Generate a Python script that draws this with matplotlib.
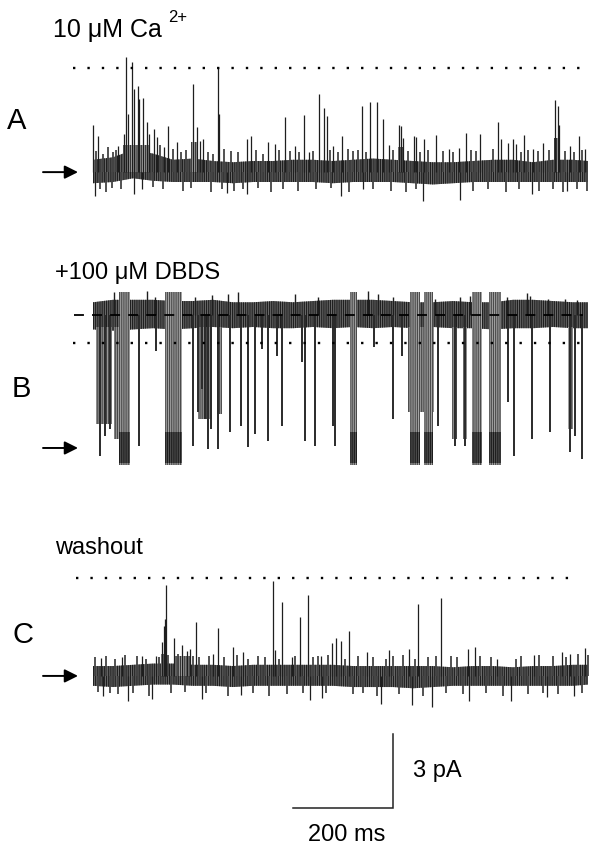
import numpy as np
import matplotlib.pyplot as plt

plt.rcParams['font.family'] = ['Liberation Sans', 'DejaVu Sans']
plt.rcParams['hatch.linewidth'] = 0.6

# ---- data (time in ms, current in pA) ----
env_t = [0, 40, 80, 120, 160, 200, 240, 280, 320, 360, 400, 440, 480,
         520, 560, 600, 640, 680, 720, 760, 800, 840, 880, 920, 960, 990]

# A: 10 uM Ca2+
a_hi = [0.5, 0.6, 0.9, 0.75, 0.5, 0.55, 0.45, 0.4, 0.45, 0.45, 0.5, 0.5, 0.45,
        0.5, 0.55, 0.5, 0.45, 0.4, 0.4, 0.45, 0.5, 0.5, 0.4, 0.5, 0.5, 0.45]
a_lo = [-0.45, -0.4, -0.25, -0.35, -0.4, -0.4, -0.4, -0.45, -0.4, -0.4, -0.4, -0.4, -0.45,
        -0.4, -0.4, -0.4, -0.45, -0.5, -0.45, -0.4, -0.4, -0.4, -0.4, -0.4, -0.4, -0.4]
a_spike_t = [0, 10, 50, 62, 66, 70, 78, 82, 90, 92, 100, 108, 112, 122, 128, 142, 150, 168,
             200, 208, 214, 220, 250, 252, 308, 316, 350, 364, 384, 404, 422, 432, 452, 462,
             468, 480, 498, 538, 554, 568, 580, 592, 612, 616, 620, 642, 646, 662, 686, 712,
             732, 746, 774, 810, 816, 830, 840, 846, 862, 880, 900, 924, 930, 932, 954, 972, 984]
a_spike_a = [1.90, 1.46, 1.05, 1.54, 4.66, 2.35, 4.45, 3.36, 3.48, 2.96, 3.00, 2.02, 1.54, 1.74,
             1.42, 1.01, 1.86, 1.21, 3.56, 1.82, 1.26, 1.34, 4.25, 2.35, 1.34, 1.46, 1.21, 1.13,
             2.23, 1.05, 2.31, 0.81, 3.16, 2.59, 2.27, 1.05, 1.46, 2.67, 2.83, 2.83, 2.15, 1.09,
             1.90, 1.86, 1.38, 1.46, 1.42, 1.34, 1.50, 0.93, 0.97, 1.58, 1.54, 2.02, 1.34, 1.17,
             1.34, 1.13, 1.50, 0.93, 1.17, 2.91, 2.67, 1.90, 1.05, 1.46, 0.93]
a_dip_t = [4, 82, 98, 268, 308, 496, 540, 660, 734, 878, 948]
a_dip_a = [-0.97, -0.89, -0.69, -0.85, -0.89, -0.97, -0.69, -1.17, -1.13, -0.89, -0.77]
a_fuzz_t = [6, 14, 20, 26, 30, 38, 40, 46, 56, 120, 134, 140, 160, 176, 180, 186, 196, 230,
            236, 240, 258, 262, 276, 282, 290, 300, 326, 330, 340, 356, 372, 380, 394, 410,
            412, 440, 446, 474, 476, 490, 510, 512, 520, 530, 546, 560, 596, 600, 626, 630,
            646, 654, 670, 700, 720, 756, 760, 766, 790, 800, 826, 852, 856, 870, 890, 892,
            912, 920, 940, 944, 962, 968, 978, 988]
a_fuzz_a = [0.85, -0.7, 0.75, -0.8, 1.0, -0.65, 0.8, 0.9, -0.7, -0.6, 1.1, -0.7, 0.95, 0.8,
            -0.75, 0.9, -0.65, 0.8, -0.8, 0.75, -0.7, 0.95, 0.85, -0.75, 0.8, -0.7, 0.9, -0.65,
            0.75, -0.8, 0.9, -0.7, 0.85, -0.75, 0.8, 0.85, -0.7, 0.9, -0.65, 0.8, 0.95, -0.8,
            0.85, 0.9, 0.8, -0.7, -0.75, 0.9, -0.8, 0.85, -0.7, 0.8, 0.9, 0.85, 0.8, 0.9, -0.75,
            0.85, -0.7, 0.95, -0.8, -0.7, 0.8, 0.9, 0.85, -0.75, 0.9, -0.7, -0.8, 0.85, 0.8,
            -0.7, 0.9, -0.75]
a_burst_start = [60, 196, 610, 922]
a_burst_end = [112, 208, 622, 934]
a_burst_a = [1.1, 1.2, 1.0, 1.4]

# B: +100 uM DBDS (current measured from the closed level)
b_open_hi = [5.9, 6.0, 6.0, 6.0, 5.95, 5.95, 6.0, 5.9, 5.9, 5.95, 5.9, 5.95, 6.0,
             6.0, 6.0, 5.95, 5.9, 5.9, 5.95, 5.9, 5.9, 6.0, 6.0, 5.95, 5.9, 5.9]
b_open_lo = [4.8, 4.75, 4.8, 4.85, 4.8, 4.85, 4.9, 4.85, 4.9, 4.85, 4.85, 4.9, 4.85,
             4.9, 4.85, 4.9, 4.85, 4.9, 4.85, 4.85, 4.8, 4.85, 4.85, 4.9, 4.85, 4.85]
b_shut_start = [52, 144, 514, 634, 662, 758, 792]
b_shut_end = [74, 178, 528, 654, 680, 778, 816]
b_flick_start = [6, 42, 210, 248, 630, 718, 740, 950]
b_flick_end = [38, 52, 238, 258, 682, 728, 748, 960]
b_flick_a = [0.97, 0.36, 1.17, 1.38, 1.46, 0.36, 0.36, 0.77]
b_dip_t = [14, 24, 34, 92, 126, 200, 210, 218, 224, 230, 236, 250, 274, 296, 310, 324, 338,
           350, 368, 378, 418, 424, 444, 480, 484, 562, 600, 618, 690, 724, 744, 830, 842,
           878, 914, 954, 964, 978]
b_dip_a = [-0.32, 0.49, 0.77, 0.08, 3.93, 0.08, 1.46, 2.39, 1.17, -0.04, 0.77, -0.04, 0.65,
           0.89, 0.04, 0.57, 4.0, 0.28, 3.72, 0.89, 3.48, 0.28, 0.08, 0.89, 0.08, 4.09, 1.17,
           3.72, 0.89, 0.08, 0.08, 1.86, -0.32, 0.36, 0.65, -0.16, 0.49, -0.45]
b_peak_t = [42, 108, 124, 204, 238, 270, 290, 404, 450, 550, 570, 600, 684, 734, 754, 828,
            868, 874, 910, 944, 968]
b_peak_a = [6.32, 6.36, 6.11, 6.1, 6.2, 6.23, 6.32, 6.23, 6.11, 6.36, 6.23, 6.1, 6.05, 6.1,
            6.15, 6.1, 6.28, 6.15, 6.05, 6.05, 6.0]
b_open_level = 5.38
b_ref_level = 4.25

# C: washout
c_hi = [0.4, 0.4, 0.45, 0.5, 0.5, 0.45, 0.45, 0.4, 0.45, 0.45, 0.45, 0.45, 0.45,
        0.4, 0.4, 0.4, 0.4, 0.4, 0.35, 0.4, 0.4, 0.35, 0.4, 0.4, 0.45, 0.45]
c_lo = [-0.4, -0.45, -0.4, -0.35, -0.35, -0.4, -0.4, -0.45, -0.4, -0.4, -0.4, -0.4, -0.4,
        -0.45, -0.45, -0.45, -0.5, -0.45, -0.4, -0.4, -0.4, -0.4, -0.4, -0.4, -0.4, -0.35]
c_spike_t = [16, 58, 98, 126, 138, 142, 144, 146, 162, 178, 188, 194, 206, 240, 250, 280,
             300, 360, 364, 378, 398, 414, 430, 456, 478, 486, 496, 512, 548, 592, 632, 650,
             696, 750, 764, 808, 882, 938, 954, 984]
c_spike_a = [0.73, 0.77, 0.81, 0.81, 1.38, 2.02, 2.31, 3.68, 1.54, 1.26, 1.01, 1.09, 2.19,
             0.89, 1.94, 1.17, 0.97, 3.85, 1.05, 3.00, 0.77, 2.39, 3.28, 0.81, 1.34, 1.54,
             1.42, 1.82, 0.97, 1.05, 1.09, 2.91, 3.16, 1.09, 1.17, 0.69, 0.85, 0.97, 0.89, 1.13]
c_dip_t = [20, 70, 118, 218, 296, 434, 458, 576, 638, 678, 752, 836, 908, 962]
c_dip_a = [-0.81, -1.01, -0.93, -0.93, -0.77, -0.97, -0.89, -1.13, -1.17, -1.26, -1.01,
           -1.01, -0.85, -0.81]
c_fuzz_t = [4, 10, 26, 34, 44, 50, 64, 80, 88, 106, 112, 132, 150, 156, 170, 184, 200, 212,
            226, 232, 262, 270, 288, 310, 320, 330, 344, 352, 372, 388, 404, 420, 440, 450,
            466, 470, 504, 520, 530, 540, 560, 568, 586, 600, 612, 620, 644, 660, 670, 686,
            706, 716, 728, 740, 774, 786, 796, 820, 846, 856, 870, 892, 900, 920, 930, 946,
            970, 978, 990]
c_fuzz_a = [0.75, -0.65, 0.8, -0.7, 0.7, -0.75, 0.85, -0.7, 0.8, 0.7, -0.8, 0.75, 0.85,
            -0.7, 0.9, -0.65, 0.8, 0.75, -0.7, 0.8, 0.75, -0.8, 0.85, 0.7, -0.7, 0.8, 0.75,
            -0.8, 0.7, -0.75, 0.8, -0.7, 0.75, 0.8, -0.7, 0.85, 0.7, -0.75, 0.8, -0.7, 0.75,
            -0.8, 0.7, 0.8, -0.75, 0.85, 0.7, -0.8, 0.75, 0.8, -0.7, 0.8, 0.75, -0.75, 0.8,
            -0.7, 0.75, -0.8, 0.7, 0.8, -0.75, 0.85, -0.7, 0.8, -0.75, 0.75, 0.9, -0.7, 0.85]
c_burst_start = [136, 164]
c_burst_end = [148, 196]
c_burst_a = [0.9, 0.8]

# dotted reference levels (pA above baseline)
a_ref_level = 4.2
c_ref_level = 3.95

# vertical offsets of the three records on the page
A_OFF = 20.40
B_OFF = 9.23
C_OFF = 0.0

TRACE = '#1e1e1e'
HATCH = '|' * 9


def dotted(ax, y, x0=-40, x1=976):
    ax.plot([x0, x1], [y, y], color='black', lw=1.7,
            linestyle=(0, (1.0, 5.1)), dash_capstyle='butt', zorder=6)


def baseline_trace(ax, off, hi, lo, sp_t, sp_a, dp_t, dp_a, fz_t, fz_a, bs, be, ba):
    hi = np.array(hi) + off
    lo = np.array(lo) + off
    ax.fill_between(env_t, lo, hi, facecolor='#6a6a6a', edgecolor='#111111',
                    hatch=HATCH, lw=0, zorder=2)
    for s, e, a in zip(bs, be, ba):
        ax.fill_between([s, e], off, off + a, facecolor='#a8a8a8',
                        edgecolor=TRACE, hatch=HATCH, lw=0, zorder=2)
    ax.vlines(fz_t, off, off + np.array(fz_a), color='#444444', lw=1.3, zorder=3)
    ax.vlines(sp_t, off, off + np.array(sp_a), color=TRACE, lw=0.9, zorder=4)
    ax.vlines(dp_t, off, off + np.array(dp_a), color=TRACE, lw=0.9, zorder=4)


fig = plt.figure(figsize=(5.89, 8.54), dpi=100)
ax = fig.add_axes([0, 0, 1, 1])
ax.set_xlim(-186, 992)
ax.set_ylim(-7.17, 27.41)
ax.axis('off')

# --- A ---
baseline_trace(ax, A_OFF, a_hi, a_lo, a_spike_t, a_spike_a, a_dip_t, a_dip_a,
               a_fuzz_t, a_fuzz_a, a_burst_start, a_burst_end, a_burst_a)
dotted(ax, A_OFF + a_ref_level)

# --- B ---
ax.fill_between(env_t, B_OFF + np.array(b_open_lo), B_OFF + np.array(b_open_hi),
                facecolor='#6a6a6a', edgecolor='#111111', hatch=HATCH, lw=0, zorder=2)
for s, e, a in zip(b_flick_start, b_flick_end, b_flick_a):
    ax.fill_between([s, e], B_OFF + a, B_OFF + 4.9, facecolor='#a0a0a0',
                    edgecolor='#333333', hatch=HATCH, lw=0, zorder=2)
for s, e in zip(b_shut_start, b_shut_end):
    ax.fill_between([s, e], B_OFF - 0.7, B_OFF + 6.3, facecolor='#a4a4a4',
                    edgecolor='#3a3a3a', hatch=HATCH, lw=0, zorder=3)
    ax.fill_between([s, e], B_OFF - 0.6, B_OFF + 0.65, facecolor='#555555',
                    edgecolor='#111111', hatch=HATCH, lw=0, zorder=3.5)
ax.vlines(b_dip_t, B_OFF + b_open_level, B_OFF + np.array(b_dip_a),
          color='#2a2a2a', lw=1.4, zorder=4)
ax.vlines(b_peak_t, B_OFF + b_open_level, B_OFF + np.array(b_peak_a),
          color=TRACE, lw=1.0, zorder=4)
dotted(ax, B_OFF + b_ref_level)
ax.plot([-38, 980], [B_OFF + b_open_level] * 2, color='black', lw=1.3,
        linestyle=(0, (5.5, 4.5)), zorder=6)

# --- C ---
baseline_trace(ax, C_OFF, c_hi, c_lo, c_spike_t, c_spike_a, c_dip_t, c_dip_a,
               c_fuzz_t, c_fuzz_a, c_burst_start, c_burst_end, c_burst_a)
dotted(ax, C_OFF + c_ref_level, x0=-34, x1=972)

# arrows marking the closed level
for off in [A_OFF, B_OFF, C_OFF]:
    ax.annotate('', xy=(-30, off), xytext=(-100, off),
                arrowprops=dict(arrowstyle='-|>', color='black', lw=1.4,
                                mutation_scale=20, shrinkA=0, shrinkB=0))

# labels
ax.text(-80, 25.91, '10 \u03bcM Ca', fontsize=18, va='baseline', ha='left')
ax.text(150, 26.5, '2+', fontsize=12, va='baseline', ha='left')
ax.text(-76, 16.11, '+100 \u03bcM DBDS', fontsize=17, va='baseline', ha='left')
ax.text(-76, 4.98, 'washout', fontsize=17, va='baseline', ha='left')
ax.text(-152, 22.19, 'A', fontsize=21, va='baseline', ha='center')
ax.text(-144, 11.34, 'B', fontsize=21, va='baseline', ha='center')
ax.text(-140, 1.38, 'C', fontsize=21, va='baseline', ha='center')

# scale bars: 200 ms, 3 pA
ax.plot([400, 600, 600], [-5.34, -5.34, -2.34], color='#222222', lw=1.1,
        solid_joinstyle='miter')
ax.text(640, -3.81, '3 pA', fontsize=17, va='center', ha='left')
ax.text(508, -6.40, '200 ms', fontsize=17, va='center', ha='center')

fig.savefig('out.png', dpi=100)
